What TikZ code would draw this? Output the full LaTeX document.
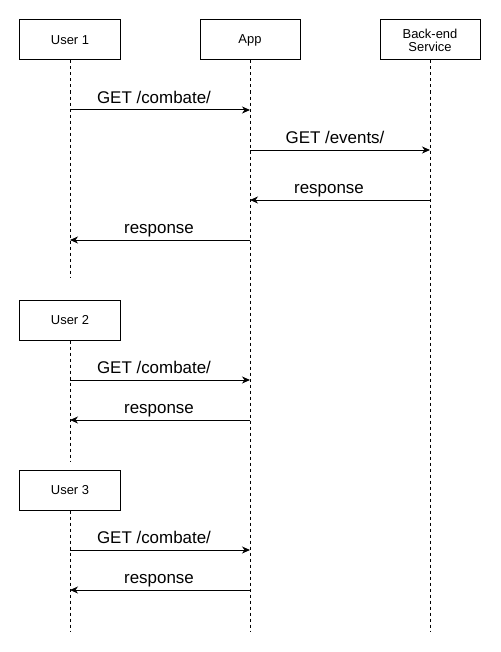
\documentclass[tikz,border=0pt]{standalone}
\usepackage{fontspec}
\setmainfont{Liberation Sans}
\usetikzlibrary{arrows.meta}
\begin{document}
\begin{tikzpicture}[x=1bp,y=-1bp,
  actor/.style={draw,line width=1bp,minimum width=100bp,minimum height=40bp,inner sep=0pt,font=\fontsize{13}{15}\selectfont,align=center},
  life/.style={line width=1bp,dash pattern=on 3bp off 3bp},
  msg/.style={line width=1bp,-{Stealth[length=8bp,width=7bp,inset=2.5bp]}},
  lbl/.style={anchor=base,inner sep=0pt,font=\fontsize{17}{19}\selectfont}]
\useasboundingbox (0,0) rectangle (501,652);
% actors
\node[actor] (u1) at (70,40) {User 1};
\node[actor] (app) at (250,40) {App};
\node[actor] (be) at (430,40) {Back-end\\[-2bp]Service};
\node[actor] (u2) at (70,320) {User 2};
\node[actor] (u3) at (70,490) {User 3};
% lifeline ends
\coordinate (u1end) at (70,278);
\coordinate (u2end) at (70,461);
\coordinate (u3end) at (70,631);
\coordinate (append) at (250,631);
\coordinate (beend) at (430,631);
\draw[life] (u1.south) -- (u1end);
\draw[life] (u2.south) -- (u2end);
\draw[life] (u3.south) -- (u3end);
\draw[life] (app.south) -- (append);
\draw[life] (be.south) -- (beend);
% message points
\foreach \n/\x/\y in {a1/70/110,b1/250/110,b2/250/150,c2/430/150,c3/430/200,b3/250/200,b4/250/240,a4/70/240,
  a5/70/380,b5/250/380,b6/250/420,a6/70/420,a7/70/550,b7/250/550,b8/250/590,a8/70/590}
  \coordinate (\n) at (\x,\y);
\draw[msg] (a1) -- (b1);
\draw[msg] (b2) -- (c2);
\draw[msg] (c3) -- (b3);
\draw[msg] (b4) -- (a4);
\draw[msg] (a5) -- (b5);
\draw[msg] (b6) -- (a6);
\draw[msg] (a7) -- (b7);
\draw[msg] (b8) -- (a8);
% labels
\node[lbl] (l1) at (154,103.5) {GET /combate/};
\node[lbl] (l2) at (335,143.5) {GET /events/};
\node[lbl] (l3) at (329,193.5) {response};
\node[lbl] (l4) at (159,233.5) {response};
\node[lbl] (l5) at (154,373.5) {GET /combate/};
\node[lbl] (l6) at (159,413.5) {response};
\node[lbl] (l7) at (154,543.5) {GET /combate/};
\node[lbl] (l8) at (159,583.5) {response};
\end{tikzpicture}
\end{document}
